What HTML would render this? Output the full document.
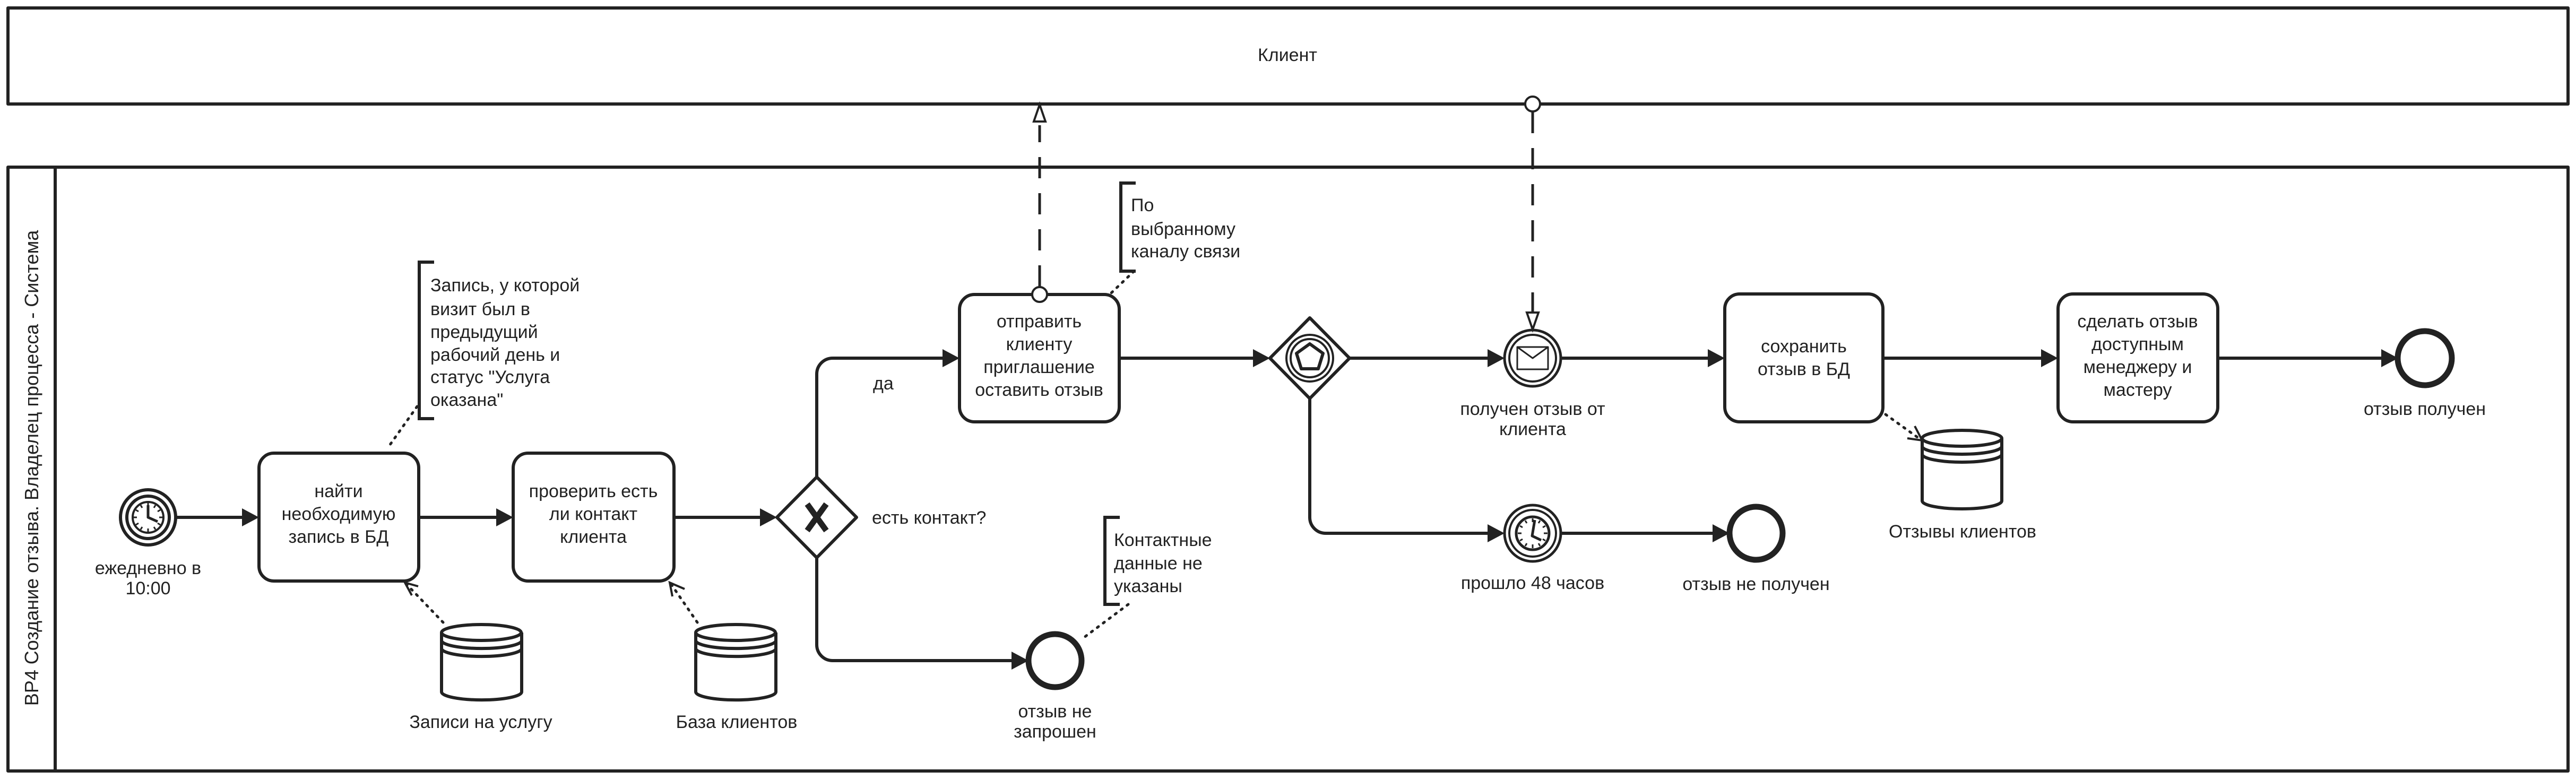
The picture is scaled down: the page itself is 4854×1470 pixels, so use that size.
<!DOCTYPE html>
<html><head><meta charset="utf-8"><style>
html,body{margin:0;padding:0;background:#fff;}
svg{display:block;}
text{font-family:"Liberation Sans","Noto Sans CJK SC",sans-serif;fill:#222;font-size:34px;}
</style></head><body>
<svg width="4854" height="1470" viewBox="0 0 4854 1470" xmlns="http://www.w3.org/2000/svg">
<defs>
<marker id="ar" markerWidth="10" markerHeight="10" refX="9" refY="5" orient="auto" markerUnits="userSpaceOnUse" viewBox="0 0 10 10">
</marker>
</defs>
<g stroke="#222" fill="none" stroke-width="6" stroke-linejoin="round">
<!-- pools -->
<rect x="15" y="15" width="4824" height="181"/>
<rect x="15" y="315" width="4824" height="1138"/>
<line x1="104" y1="315" x2="104" y2="1453"/>

<!-- start event -->
<circle cx="279" cy="975" r="52"/>
<circle cx="279" cy="975" r="40"/>
<circle cx="279" cy="975" r="29" stroke-width="4"/>
<path d="M279 952V975L297 983" stroke-width="5"/>
<g stroke-width="3"><path d="M279 948v6M279 996v6M252 975h6M300 975h6M265 952l3 5M293 952l-3 5M256 961l5 3M302 961l-5 3M256 989l5-3M302 989l-5-3M265 998l3-5M293 998l-3-5"/></g>

<!-- tasks -->
<rect x="488" y="854" width="301" height="241" rx="28"/>
<rect x="967" y="854" width="303" height="241" rx="28"/>
<rect x="1808" y="555" width="301" height="240" rx="28"/>
<rect x="3250" y="554" width="298" height="241" rx="28"/>
<rect x="3878" y="554" width="301" height="241" rx="28"/>

<!-- XOR gateway -->
<path d="M1539 899L1614 975L1539 1051L1464 975Z"/>
<path d="M1521 950L1557 1000M1557 950L1521 1000" stroke-width="11" stroke-linecap="butt"/>

<!-- event-based gateway -->
<path d="M2468 599L2543 675L2468 751L2393 675Z"/>
<circle cx="2468" cy="675" r="44" stroke-width="4"/>
<circle cx="2468" cy="675" r="36" stroke-width="4"/>
<path d="M2468 648L2493 666L2484 695L2452 695L2443 666Z" stroke-width="6"/>

<!-- message catch event -->
<circle cx="2888" cy="675" r="53" stroke-width="5"/>
<circle cx="2888" cy="675" r="44" stroke-width="4"/>
<rect x="2859" y="654" width="58" height="42" stroke-width="3"/>
<path d="M2859 654L2888 675L2917 654" stroke-width="3"/>

<!-- timer catch event -->
<circle cx="2888" cy="1005" r="53" stroke-width="5"/>
<circle cx="2888" cy="1005" r="44" stroke-width="4"/>
<circle cx="2888" cy="1005" r="31" stroke-width="5"/>
<path d="M2892 980L2887 1010L2904 1018" stroke-width="5"/>
<g stroke-width="3"><path d="M2888 977v7M2888 1026v7M2860 1005h7M2909 1005h7M2874 981l3 5M2902 981l-3 5M2864 991l5 3M2912 991l-5 3M2864 1019l5-3M2912 1019l-5-3M2874 1029l3-5M2902 1029l-3-5"/></g>

<!-- end events -->
<circle cx="1988" cy="1245" r="50" stroke-width="11"/>
<circle cx="3309" cy="1005" r="50" stroke-width="11"/>
<circle cx="4569" cy="675" r="51" stroke-width="11"/>

<!-- data stores -->
<g id="ds1">
<path d="M832 1192v112a75 15 0 0 0 151 0v-112"/>
<ellipse cx="907" cy="1192" rx="75" ry="15"/>
<path d="M832 1207a75 15 0 0 0 151 0M832 1222a75 15 0 0 0 151 0"/>
</g>
<path d="M1311 1192v112a75 15 0 0 0 151 0v-112"/>
<ellipse cx="1386" cy="1192" rx="75" ry="15"/>
<path d="M1311 1207a75 15 0 0 0 151 0M1311 1222a75 15 0 0 0 151 0"/>
<path d="M3622 826v118a75 15 0 0 0 150 0v-118"/>
<ellipse cx="3697" cy="826" rx="75" ry="15"/>
<path d="M3622 841a75 15 0 0 0 150 0M3622 856a75 15 0 0 0 150 0"/>

<!-- sequence flows -->
<path d="M331 975H460"/>
<path d="M789 975H940"/>
<path d="M1270 975H1437"/>
<path d="M1539 899V705a30 30 0 0 1 30-30H1781"/>
<path d="M1539 1051V1215a30 30 0 0 0 30 30H1910"/>
<path d="M2109 675H2366"/>
<path d="M2543 675H2808"/>
<path d="M2468 751V975a30 30 0 0 0 30 30H2808"/>
<path d="M2941 1005H3231"/>
<path d="M2941 675H3223"/>
<path d="M3548 675H3851"/>
<path d="M4179 675H4491"/>
</g>
<!-- arrowheads -->
<g fill="#222" stroke="none">
<path d="M488 975l-32-17v34Z"/>
<path d="M967 975l-32-17v34Z"/>
<path d="M1464 975l-32-17v34Z"/>
<path d="M1808 675l-32-17v34Z"/>
<path d="M1938 1245l-32-17v34Z"/>
<path d="M2393 675l-32-17v34Z"/>
<path d="M2835 675l-32-17v34Z"/>
<path d="M2835 1005l-32-17v34Z"/>
<path d="M3259 1005l-32-17v34Z"/>
<path d="M3250 675l-32-17v34Z"/>
<path d="M3878 675l-32-17v34Z"/>
<path d="M4519 675l-32-17v34Z"/>
</g>

<!-- message flows -->
<g stroke="#222" fill="none" stroke-width="5">
<path d="M1959 540V236" stroke-dasharray="40 28"/>
<path d="M1959 197l-11 32h22Z" fill="#fff" stroke-width="4"/>
<circle cx="1959" cy="555" r="14" fill="#fff" stroke-width="4"/>
<path d="M2888 211V590" stroke-dasharray="40 28"/>
<path d="M2888 621l-11-32h22Z" fill="#fff" stroke-width="4"/>
<circle cx="2888" cy="196" r="14" fill="#fff" stroke-width="4"/>
</g>

<!-- associations -->
<g stroke="#222" fill="none" stroke-width="5" stroke-dasharray="3 11" stroke-linecap="round">
<path d="M835 1173L765 1100"/>
<path d="M1314 1173L1264 1100"/>
<path d="M3553 781L3620 829"/>
<path d="M786 766L730 845"/>
<path d="M2137 511L2093 553"/>
<path d="M2126 1139L2039 1204"/>
</g>
<g stroke="#222" fill="none" stroke-width="4">
<path d="M776 1122L763 1098L788 1105"/>
<path d="M1267 1124L1262 1098L1290 1110"/>
<path d="M3608 803L3622 830L3594 826"/>
</g>
<!-- annotation brackets -->
<g stroke="#222" fill="none" stroke-width="6">
<path d="M818 494H790V789H818"/>
<path d="M2140 345H2112V511H2140"/>
<path d="M2110 975H2082V1139H2110"/>
</g>

<!-- text -->
<text x="2426" y="115" text-anchor="middle">Клиент</text>
<text transform="translate(72 882) rotate(-90)" text-anchor="middle" font-size="36" style="font-size:36px">BP4 Создание отзыва. Владелец процесса - Система</text>
<g text-anchor="middle">
<text x="279" y="1082">ежедневно в</text>
<text x="279" y="1120">10:00</text>
<text x="638" y="937">найти</text>
<text x="638" y="980">необходимую</text>
<text x="638" y="1023">запись в БД</text>
<text x="1118" y="937">проверить есть</text>
<text x="1118" y="980">ли контакт</text>
<text x="1118" y="1023">клиента</text>
<text x="1958" y="617">отправить</text>
<text x="1958" y="660">клиенту</text>
<text x="1958" y="703">приглашение</text>
<text x="1958" y="746">оставить отзыв</text>
<text x="3399" y="664">сохранить</text>
<text x="3399" y="707">отзыв в БД</text>
<text x="4028" y="617">сделать отзыв</text>
<text x="4028" y="660">доступным</text>
<text x="4028" y="703">менеджеру и</text>
<text x="4028" y="746">мастеру</text>
<text x="906" y="1372">Записи на услугу</text>
<text x="1388" y="1372">База клиентов</text>
<text x="3698" y="1013">Отзывы клиентов</text>
<text x="1988" y="1352">отзыв не</text>
<text x="1988" y="1390">запрошен</text>
<text x="2888" y="782">получен отзыв от</text>
<text x="2888" y="820">клиента</text>
<text x="2888" y="1110">прошло 48 часов</text>
<text x="3309" y="1112">отзыв не получен</text>
<text x="4569" y="782">отзыв получен</text>
</g>
<text x="1645" y="734">да</text>
<text x="1643" y="987">есть контакт?</text>
<text x="811" y="549">Запись, у которой</text>
<text x="811" y="594">визит был в</text>
<text x="811" y="637">предыдущий</text>
<text x="811" y="680">рабочий день и</text>
<text x="811" y="722">статус "Услуга</text>
<text x="811" y="765">оказана"</text>
<text x="2131" y="398">По</text>
<text x="2131" y="443">выбранному</text>
<text x="2131" y="485">каналу связи</text>
<text x="2099" y="1029">Контактные</text>
<text x="2099" y="1073">данные не</text>
<text x="2099" y="1116">указаны</text>
</svg>
</body></html>
